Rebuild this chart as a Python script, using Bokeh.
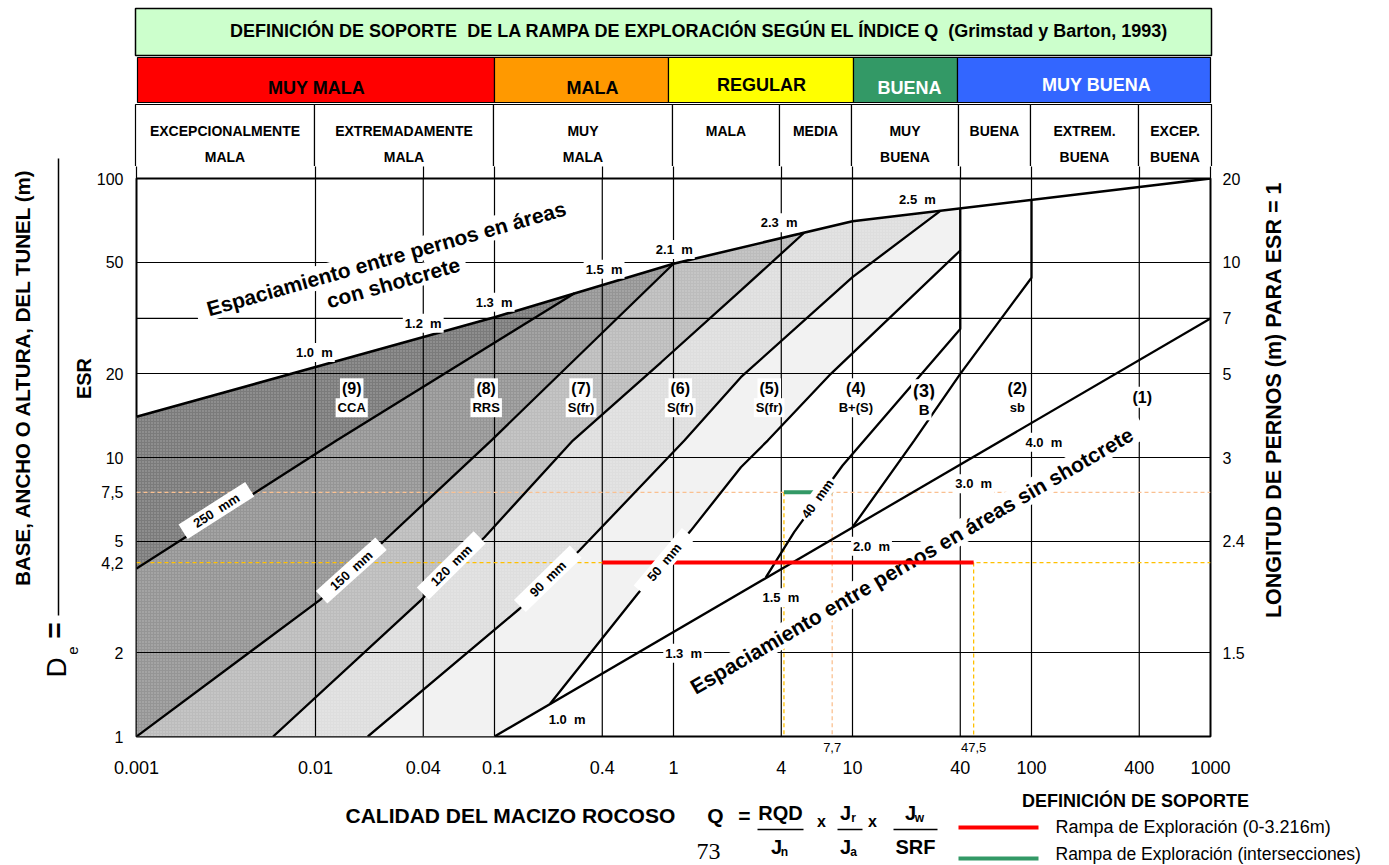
import math
from bokeh.plotting import figure
from bokeh.layouts import row, column
from bokeh.models import Range1d, LogAxis, FixedTicker
from bokeh.embed import file_html
from bokeh.resources import INLINE
from bokeh.core.properties import value

FONT = "Liberation Sans"
NB = "\u00a0"

# ---------------- chart values ----------------
q_ticks = [0.001, 0.01, 0.04, 0.1, 0.4, 1, 4, 10, 40, 100, 400, 1000]
q_labels = ["0.001", "0.01", "0.04", "0.1", "0.4", "1", "4", "10", "40", "100", "400", "1000"]
de_ticks = [1, 2, 5, 10, 20, 50, 100]
de_labels = ["1", "2", "5", "10", "20", "50", "100"]
bolt_pos = [2, 5, 10, 20, 31.5, 50, 100]
bolt_labels = ["1.5", "2.4", "3", "5", "7", "10", "20"]
grid_q = [0.01, 0.04, 0.1, 0.4, 1, 4, 10, 40, 100, 400]
grid_de = [2, 5, 10, 20, 31.5, 50]

# upper limit: bolt spacing in shotcreted areas
top_q = [0.001, 0.1, 1, 10, 1000]
top_de = [14.0, 31.8, 49.5, 70.3, 100]

# shotcrete thickness boundaries (Q, De)
c250_q = [0.001, 0.0131, 0.28]
c250_de = [4.0, 11.5, 38.8]
c150_q = [0.001, 0.0106, 0.0243, 0.0958, 1]
c150_de = [1, 3.09, 5.04, 11.5, 49.5]
c120_q = [0.0058, 0.039, 0.088, 0.274, 0.85, 2.38, 5.37]
c120_de = [1, 3.09, 5.18, 11.5, 21.9, 39.7, 63.9]
c90_q = [0.0196, 0.138, 0.298, 1.15, 2.38, 10, 31.1]
c90_de = [1, 2.87, 4.64, 11.5, 19.4, 44.3, 76.7]
c50_q = [0.2045, 0.631, 1.25, 2.38, 3.36, 7.57, 40, 40]
c50_de = [1.31, 3.25, 5.47, 9.23, 11.5, 19.95, 55.2, 78.2]
c40_q = [3.28, 4.72, 8.80, 40, 40]
c40_de = [3.72, 5.40, 9.36, 28.9, 55.2]
cb_q = [10, 22.1, 40, 100, 100]
cb_de = [5.63, 11.5, 19.95, 44.1, 83.8]

# bolt spacing in unshotcreted areas
sp_q = [0.1, 1000]
sp_de = [1, 31.5]

# exploration ramp
ramp_de = 4.2
ramp_q = [0.4, 47.5]
inter_de = 7.5
inter_q = [4.14, 7.7]

region_colors = ["#7b7b7b", "#959595", "#bcbcbc", "#dedede", "#f2f2f2"]

# ---------------- page layout (px) ----------------
W, H = 1389, 865
LEFT_W = 93                     # left caption strip
FX0, FX1, FY0, FY1 = 135, 1210, 178, 736   # plot frame on the page
P_BT = 12                       # room above the frame for the top tick label
HEAD_H = FY0 - P_BT             # header strip
P_BL, P_BR, P_BB = FX0 - LEFT_W, 45, 50
P_W = P_BL + (FX1 - FX0) + P_BR
P_H = P_BT + (FY1 - FY0) + P_BB
RIGHT_X0 = LEFT_W + P_W
BOT_Y0 = HEAD_H + P_H


def qx(px):
    """Q value found at page column px (anchor for in-frame captions)."""
    return 10 ** ((px - FX0) / ((FX1 - FX0) / 6.0) - 3)


def dy(py):
    """De value found at page row py (anchor for in-frame captions)."""
    return 10 ** ((FY1 - py) / ((FY1 - FY0) / 2.0))


# ---------------- main chart ----------------
p = figure(width=P_W, height=P_H, x_axis_type="log", y_axis_type="log", x_axis_location=None,
           x_range=Range1d(0.001, 1000), y_range=Range1d(1, 100),
           min_border_left=P_BL, min_border_right=P_BR, min_border_top=P_BT,
           min_border_bottom=P_BB, output_backend="svg", toolbar_location=None)
p.grid.visible = False
p.outline_line_color = "black"
p.outline_line_width = 2
p.background_fill_color = "white"
p.border_fill_color = "white"


def style_axis(ax, ticks, labels, standoff, size="16px"):
    ax.ticker = FixedTicker(ticks=ticks)
    ax.major_label_overrides = {t: s for t, s in zip(ticks, labels)}
    ax.axis_line_color = None
    ax.major_tick_line_color = None
    ax.minor_tick_line_color = None
    ax.major_tick_out = 0
    ax.major_tick_in = 0
    ax.minor_tick_out = 0
    ax.minor_tick_in = 0
    ax.major_label_text_font = FONT
    ax.major_label_text_font_size = size
    ax.major_label_text_color = "black"
    ax.major_label_standoff = standoff


style_axis(p.yaxis[0], de_ticks + [inter_de, ramp_de], de_labels + ["7,5", "4,2"], 13)

ramp_axis = LogAxis()
style_axis(ramp_axis, [inter_q[1], ramp_q[1]], ["7,7", "47,5"], 6, "13px")
p.add_layout(ramp_axis, "below")
q_axis = LogAxis()
style_axis(q_axis, q_ticks, q_labels, 6, "18px")
p.add_layout(q_axis, "below")

right_axis = LogAxis()
style_axis(right_axis, bolt_pos, bolt_labels, 12)
p.add_layout(right_axis, "right")

# class-table dividers continue down to the frame
divider_axis = LogAxis()
style_axis(divider_axis, [0.001] + grid_q + [1000], [""] * (len(grid_q) + 2), 0, "0px")
divider_axis.major_tick_out = P_BT
divider_axis.major_tick_line_color = "black"
divider_axis.major_tick_line_width = 1.2
p.add_layout(divider_axis, "above")


# shaded support categories
def pts(qs, ds):
    return list(zip(qs, ds))


def top_inner(q0, q1):
    return [(q, d) for q, d in zip(top_q, top_de) if q0 < q < q1]


def band(left, right, tail=()):
    ring = list(left) + top_inner(left[-1][0], right[-1][0]) + list(reversed(right)) + list(tail)
    return [a for a, _ in ring], [b for _, b in ring]


regions = [
    band([(top_q[0], top_de[0])], pts(c250_q, c250_de)),
    band(pts(c250_q, c250_de), pts(c150_q, c150_de)),
    band(pts(c150_q, c150_de), pts(c120_q, c120_de)),
    band(pts(c120_q, c120_de), pts(c90_q, c90_de)),
    band(pts(c90_q, c90_de), pts(c50_q, c50_de), [(sp_q[0], sp_de[0])]),
]
for i, ((xs, ys), col) in enumerate(zip(regions, region_colors)):
    if i < 4:
        p.patch(xs, ys, fill_color=col, line_color=None,
                hatch_pattern="dot", hatch_color="white", hatch_alpha=0.35, hatch_scale=3)
    else:
        p.patch(xs, ys, fill_color=col, line_color=None)

# grid
p.segment(x0=grid_q, y0=[1] * len(grid_q), x1=grid_q, y1=[100] * len(grid_q),
          line_color="black", line_width=1.2)
p.segment(x0=[0.001] * len(grid_de), y0=grid_de, x1=[1000] * len(grid_de), y1=grid_de,
          line_color="black", line_width=1.2)

# guide lines for the ramp
p.line([0.001, 1000], [inter_de, inter_de], line_color="#fac090", line_dash="4 3", line_width=1.3)
p.line([0.001, 1000], [ramp_de, ramp_de], line_color="#ffc000", line_dash="4 3", line_width=1.3)
p.segment(x0=[inter_q[0], inter_q[1], ramp_q[1]], y0=[inter_de, inter_de, ramp_de],
          x1=[inter_q[0], inter_q[1], ramp_q[1]], y1=[1, 1, 1],
          line_color=["#ffc000", "#fac090", "#ffc000"], line_dash="4 3", line_width=1.3)

# boundaries
for qs, ds in [(c250_q, c250_de), (c150_q, c150_de), (c120_q, c120_de), (c90_q, c90_de),
               (c50_q, c50_de), (c40_q, c40_de), (cb_q, cb_de), (sp_q, sp_de)]:
    p.line(qs, ds, line_color="black", line_width=2.3)
p.line(top_q, top_de, line_color="black", line_width=2.6)


def tag(px, py, s, size, angle=0.0, box=True, style="bold"):
    p.text(x=[qx(px)], y=[dy(py)], text=[s.replace(" ", NB)], angle=math.radians(angle),
           text_font=value(FONT), text_font_size=value(f"{size}px"),
           text_font_style=style, text_align="center", text_baseline="middle",
           text_color="black", text_line_height=1.0,
           background_fill_color="white" if box else None, padding=2)


def slab(px, py, length, thick, angle):
    """white rotated plate under a sloping caption"""
    p.rect(x=[qx(px)], y=[dy(py)], width=[length], height=[thick], width_units="screen",
           height_units="screen", angle=math.radians(angle), fill_color="white", line_color=None)


def slanted(px, py, s, size, angle, length, thick):
    slab(px, py, length, thick, angle)
    tag(px, py, s, size, angle=angle, box=False)


# large captions
slanted(385, 258, "Espaciamiento entre pernos en áreas", 21, 15.8, 395, 24)
slanted(392, 282, "con shotcrete", 21, 15.8, 150, 22)
slanted(911, 560, "Espaciamiento entre pernos en áreas sin shotcrete", 21, 30.2, 535, 24)

# ramp support marks
p.line(ramp_q, [ramp_de, ramp_de], line_color="#ff0000", line_width=4)
p.line(inter_q, [inter_de, inter_de], line_color="#339966", line_width=4)

# bolt spacing labels
for s, x, y in [("1.0  m", 313, 352), ("1.2  m", 422, 322.7), ("1.3  m", 493, 301.7),
                ("1.5  m", 603, 268.7), ("2.1  m", 673.3, 249), ("2.3  m", 778.3, 222.3),
                ("2.5  m", 916.7, 199.3), ("1.0  m", 566, 719.3), ("1.3  m", 682.7, 652.7),
                ("1.5  m", 780, 597.3), ("2.0  m", 870.7, 545.7), ("3.0  m", 973, 483.3),
                ("4.0  m", 1043.3, 441.7)]:
    tag(x, y, s, 13)

# shotcrete thickness labels
for s, x, y, a, ln in [("250  mm", 215, 510, 32.5, 79), ("150  mm", 350, 570, 42, 80),
                       ("120  mm", 450, 565, 44.7, 80), ("90  mm", 546.7, 578.3, 44.2, 78),
                       ("50  mm", 663.3, 561.7, 50, 75), ("40  mm", 816.7, 498.3, 54, 50)]:
    slanted(x, y, s, 13, a, ln, 17)

# category labels
for num, code, x in [("(9)", "CCA", 350.4), ("(8)", "RRS", 485), ("(7)", "S(fr)", 580),
                     ("(6)", "S(fr)", 679.3), ("(5)", "S(fr)", 768.3), ("(4)", "B+(S)", 855),
                     ("(2)", "sb", 1016.7)]:
    tag(x, 388.3, num, 16)
    tag(x, 407.2, code, 13)
tag(923.3, 390.7, "(3)", 18)
tag(923.3, 409.3, "B", 15)
tag(1141.7, 396.7, "(1)", 16)


# ---------------- page strips around the chart ----------------
def strip(x0, y0, w, h):
    f = figure(width=w, height=h, x_range=Range1d(x0, x0 + w), y_range=Range1d(y0 + h, y0),
               x_axis_location=None, y_axis_location=None, min_border=0,
               output_backend="svg", toolbar_location=None)
    f.grid.visible = False
    f.outline_line_color = None
    f.background_fill_color = "white"
    f.border_fill_color = "white"
    return f


def ftext(f, x, y, s, size, bold=True, align="center", angle=0.0, color="black", font=FONT):
    f.text(x=[x], y=[y], text=[s.replace("  ", NB + NB)], angle=math.radians(angle),
           text_font=value(font), text_font_size=value(f"{size}px"),
           text_font_style="bold" if bold else "normal",
           text_align=align, text_baseline="middle", text_color=color)


def fbox(f, x0, y0, x1, y1, fill, line="black", lw=1.5):
    f.quad(left=[x0], right=[x1], top=[y0], bottom=[y1], fill_color=fill,
           line_color=line, line_width=lw)


head = strip(LEFT_W, 0, W - LEFT_W, HEAD_H)
left = strip(0, 0, LEFT_W, H)
right = strip(RIGHT_X0, HEAD_H, W - RIGHT_X0, P_H)
foot = strip(LEFT_W, BOT_Y0, W - LEFT_W, H - BOT_Y0)

# header: title
fbox(head, 135, 8, 1211, 55, "#ccffcc")
ftext(head, 699, 30, "DEFINICIÓN DE SOPORTE  DE LA RAMPA DE EXPLORACIÓN SEGÚN EL ÍNDICE Q  (Grimstad y Barton, 1993)", 18)

# header: rock mass classes
class_edges = [137, 494, 668, 853, 957, 1210]
class_fill = ["#ff0000", "#ff9900", "#ffff00", "#339966", "#3366ff"]
class_text = ["MUY MALA", "MALA", "REGULAR", "BUENA", "MUY BUENA"]
class_pos = [316, 592, 761, 909, 1096]
class_y = [87, 87, 84, 87, 84]
class_col = ["black", "black", "black", "white", "white"]
for i in range(5):
    fbox(head, class_edges[i], 57, class_edges[i + 1], 102, class_fill[i], lw=1.2)
    ftext(head, class_pos[i], class_y[i], class_text[i], 18, color=class_col[i])

# header: Q classes
q_edges = [135, 314, 493, 672, 779, 851, 958, 1030, 1138, 1211]
q_cls = [("EXCEPCIONALMENTE", "MALA"), ("EXTREMADAMENTE", "MALA"), ("MUY", "MALA"),
         ("MALA", ""), ("MEDIA", ""), ("MUY", "BUENA"), ("BUENA", ""),
         ("EXTREM.", "BUENA"), ("EXCEP.", "BUENA")]
for i, (a, b) in enumerate(q_cls):
    fbox(head, q_edges[i], 104, q_edges[i + 1], 190, "white", lw=1.2)
    cx = (q_edges[i] + q_edges[i + 1]) / 2
    ftext(head, cx, 130, a, 14)
    if b:
        ftext(head, cx, 156, b, 14)

# left titles
ftext(left, 22, 376.5, "BASE, ANCHO O ALTURA, DEL TUNEL (m)", 20.5, angle=90)
left.segment(x0=[58], y0=[158], x1=[58], y1=[615], line_color="black", line_width=1.5)
ftext(left, 83, 378, "ESR", 20, angle=90)
ftext(left, 56, 667, "D", 28, bold=False, angle=90)
ftext(left, 72, 650, "e", 15, bold=False, angle=90)
ftext(left, 54, 630, "=", 28, angle=90)

# right title
ftext(right, 1273, 412, "LONGITUD DE PERNOS (m) PARA ESR = 1", 21.5, angle=90)

# Q definition
ftext(foot, 345, 815, "CALIDAD DEL MACIZO ROCOSO", 21, align="left")
ftext(foot, 715, 815, "Q", 21)
ftext(foot, 744, 815, "=", 21)
ftext(foot, 780, 812, "RQD", 20)
foot.segment(x0=[757, 837, 893], y0=[829, 829, 829], x1=[803, 862, 937], y1=[829, 829, 829],
             line_color="black", line_width=1.6)
ftext(foot, 776, 846, "J", 20)
ftext(foot, 784, 851, "n", 12)
ftext(foot, 821, 821, "x", 16)
ftext(foot, 845, 812, "J", 20)
ftext(foot, 853, 817, "r", 12)
ftext(foot, 845, 846, "J", 20)
ftext(foot, 853, 851, "a", 12)
ftext(foot, 872, 821, "x", 16)
ftext(foot, 910, 812, "J", 20)
ftext(foot, 919, 817, "w", 12)
ftext(foot, 915, 846, "SRF", 20)
ftext(foot, 708, 851, "73", 24, bold=False, font="Liberation Serif")

# support legend
ftext(foot, 1135, 800, "DEFINICIÓN DE SOPORTE", 18)
foot.segment(x0=[958, 958], y0=[827, 858], x1=[1038, 1038], y1=[827, 858],
             line_color=["#ff0000", "#339966"], line_width=4)
ftext(foot, 1055, 826, "Rampa de Exploración (0-3.216m)", 18, bold=False, align="left")
ftext(foot, 1055, 853, "Rampa de Exploración (intersecciones)", 17.5, bold=False, align="left")

page = row(left, column(head, row(p, right), foot))
open("out.html", "w").write(file_html(page, INLINE))
